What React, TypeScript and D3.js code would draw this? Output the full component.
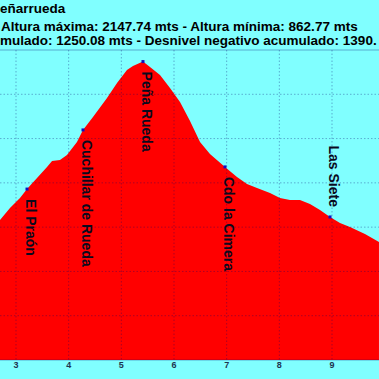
import React from "react";
import * as d3 from "d3";

const W = 379;
const H = 379;

// profile: distance (km) and elevation (m)
const distanceKm = [2.696, 2.886, 3.076, 3.209, 3.399, 3.589, 3.684, 3.835, 3.968, 4.158, 4.272, 4.462, 4.728, 4.918, 5.107, 5.221, 5.411, 5.544, 5.734, 5.924, 6.114, 6.304, 6.494, 6.683, 6.968, 7.196, 7.386, 7.576, 7.823, 8.012, 8.202, 8.392, 8.582, 8.772, 8.962, 9.152, 9.341, 9.626, 9.892];
const elevationM = [1432, 1486, 1532, 1572, 1622, 1672, 1699, 1703, 1726, 1785, 1839, 1897, 1983, 2051, 2110, 2128, 2147.74, 2123, 2087, 2028, 1965, 1879, 1785, 1730, 1672, 1626, 1595, 1577, 1554, 1532, 1523, 1523, 1505, 1477, 1446, 1419, 1401, 1369, 1333];

// waypoints
const waypointNames = ["El Praón", "Cuchillar de Rueda", "Peña Rueda", "Cdo la Cimera", "Las Siete"];
const waypointKm = [3.209, 4.272, 5.411, 6.968, 8.962];
const waypointElev = [1572, 1839, 2147.74, 1672, 1446];
const waypointAbove = [false, false, false, false, true];

const xTicks = [3, 4, 5, 6, 7, 8, 9];
const yTicks = [800, 1000, 1200, 1400, 1600, 1800, 2000, 2200];

const titleLines = [
  "eñarrueda",
  "Altura máxima: 2147.74 mts - Altura mínima: 862.77 mts",
  "mulado: 1250.08 mts - Desnivel negativo acumulado: 1390.",
];

export default function App() {
  const x = d3.scaleLinear().domain([3, 9]).range([16, 332]);
  const y = d3.scaleLinear().domain([800, 2200]).range([360, 50]);
  const data = distanceKm.map((d, i) => ({ d, e: elevationM[i] }));
  const area = d3
    .area<{ d: number; e: number }>()
    .x((p) => x(p.d))
    .y0(y(800))
    .y1((p) => y(p.e));
  const font = "'Liberation Sans', Arial, sans-serif";
  const grid = "rgba(0,0,110,0.32)";
  return (
    <svg
      width={W}
      height={H}
      style={{ position: "fixed", left: 0, top: 0, display: "block" }}
      fontFamily={font}
    >
      <rect x={0} y={0} width={W} height={H} fill="#80ffff" />
      <path d={area(data) || ""} fill="#ff0000" />
      {yTicks.map((t) => (
        <line
          key={"y" + t}
          x1={0}
          x2={W}
          y1={y(t)}
          y2={y(t)}
          stroke={grid}
          strokeWidth={1}
          strokeDasharray={t === 2200 || t === 800 ? undefined : "1.5,2"}
        />
      ))}
      {xTicks.map((t) => (
        <line
          key={"x" + t}
          x1={x(t)}
          x2={x(t)}
          y1={y(2200)}
          y2={y(800)}
          stroke={grid}
          strokeWidth={1}
          strokeDasharray="1.5,2"
        />
      ))}
      {xTicks.map((t) => (
        <text
          key={"l" + t}
          x={x(t)}
          y={368}
          fontSize={9}
          fontWeight="bold"
          textAnchor="middle"
          fill="#1e3450"
        >
          {t}
        </text>
      ))}
      {waypointNames.map((n, i) => {
        const mx = x(waypointKm[i]);
        const my = y(waypointElev[i]);
        const ty = waypointAbove[i] ? my - 10 : my + 10;
        return (
          <g key={n}>
            <text
              transform={`translate(${mx - 1},${ty}) rotate(90)`}
              fontSize={14}
              fontWeight="bold"
              fill="#0a0a1e"
              textAnchor={waypointAbove[i] ? "end" : "start"}
            >
              {n}
            </text>
            <rect x={mx - 1.5} y={my - 1.5} width={3} height={3} fill="#1010c0" />
          </g>
        );
      })}
      <text x={0} y={13.3} fontSize={13.5} fontWeight="bold" fill="#000">
        {titleLines[0]}
      </text>
      <text x={1} y={31} fontSize={13.5} fontWeight="bold" fill="#000">
        {titleLines[1]}
      </text>
      <text x={0} y={45} fontSize={13.5} fontWeight="bold" fill="#000">
        {titleLines[2]}
      </text>
    </svg>
  );
}
